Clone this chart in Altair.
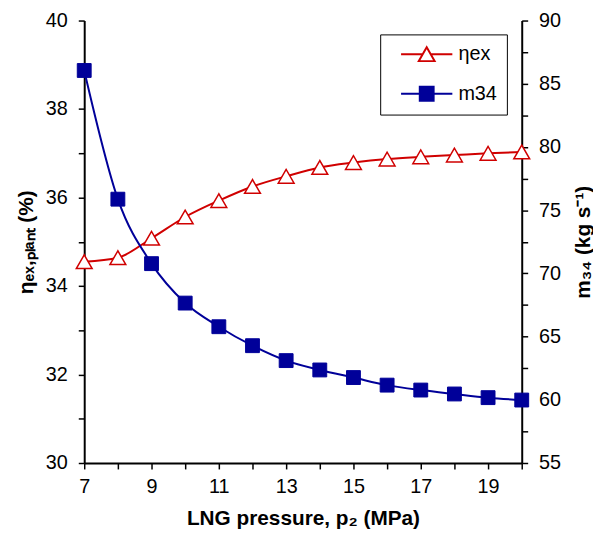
import altair as alt
import pandas as pd

# ---- data ----
pressure = [7, 8, 9, 10, 11, 12, 13, 14, 15, 16, 17, 18, 19, 20]
eta_ex = [34.55, 34.64, 35.08, 35.56, 35.93, 36.25, 36.48, 36.68, 36.79, 36.87, 36.92, 36.96, 37.00, 37.03]
m34 = [86.05, 75.87, 70.77, 67.65, 65.78, 64.28, 63.10, 62.36, 61.76, 61.16, 60.77, 60.46, 60.17, 59.98]
series = ["ηex", "m34"]

x_ticks = [7, 8, 9, 10, 11, 12, 13, 14, 15, 16, 17, 18, 19, 20]
left_ticks = [30, 31, 32, 33, 34, 35, 36, 37, 38, 39, 40]
right_ticks = [55, 57.5, 60, 62.5, 65, 67.5, 70, 72.5, 75, 77.5, 80, 82.5, 85, 87.5, 90]

RED = "#D00000"
BLUE = "#000099"
FONT = "Liberation Sans"

# legend symbols: line + marker
TRI_PATH = "M-3.7,0L-0.6,0M0.6,0L3.7,0M0,-1L1.14,1L-1.14,1Z"
SQ_PATH = "M-3.7,0L-1,0M1,0L3.7,0M-1,-1L1,-1L1,1L-1,1Z"

df = pd.DataFrame({"p": pressure, "eta": eta_ex, "m": m34})
base = alt.Chart(df)

x = alt.X(
    "p:Q",
    scale=alt.Scale(domain=[7, 20], nice=False, zero=False),
    axis=alt.Axis(
        values=x_ticks,
        labelExpr="datum.value % 2 == 1 ? datum.label : ''",
        title="LNG pressure, p₂ (MPa)",
        labelPadding=8,
        titlePadding=11,
        labelFlush=False,
        labelOverlap=False,
    ),
)

y_left = alt.Y(
    "eta:Q",
    scale=alt.Scale(domain=[30, 40], nice=False, zero=False),
    axis=alt.Axis(
        orient="left",
        values=left_ticks,
        labelExpr="datum.value % 2 == 0 ? datum.label : ''",
        title="ηₑₓ,ₚₗₐₙₜ (%)",
        labelPadding=11,
        titlePadding=9,
        labelFlush=False,
        labelOverlap=False,
    ),
)

y_right = alt.Y(
    "m:Q",
    scale=alt.Scale(domain=[55, 90], nice=False, zero=False),
    axis=alt.Axis(
        orient="right",
        values=right_ticks,
        labelExpr="datum.value % 5 == 0 ? datum.label : ''",
        title="m₃₄ (kg s⁻¹)",
        titleAngle=270,
        titleBaseline="top",
        labelPadding=11,
        titlePadding=12,
        labelFlush=False,
        labelOverlap=False,
    ),
)

eta_line = base.mark_line(color=RED, strokeWidth=2, interpolate="monotone").encode(x=x, y=y_left)
eta_pts = base.mark_point(
    shape="triangle-up", size=256, filled=True, color=RED, fill="white", stroke=RED,
    strokeWidth=1.5, opacity=1
).encode(x=x, y=y_left)

m_line = base.mark_line(color=BLUE, strokeWidth=2, interpolate="monotone").encode(x=x, y=y_right)
m_pts = base.mark_point(
    shape="square", size=196, filled=True, color=BLUE, fill=BLUE, stroke=BLUE,
    strokeWidth=1, opacity=1
).encode(x=x, y=y_right)

leg = alt.Legend(
    title=None,
    orient="none",
    legendX=299,
    legendY=14,
    strokeColor="black",
    fillColor="white",
    padding=10,
    symbolSize=196,
    symbolOffset=27,
    labelOffset=22,
    labelFont=FONT,
    labelFontSize=20,
    labelColor="black",
    labelExpr="datum.label + '     '",
    rowPadding=18,
    symbolStrokeWidth=2,
)

legend_df = pd.DataFrame({"s": series})
legend_layer = alt.Chart(legend_df).mark_point(size=196, strokeWidth=2, opacity=1, clip=True).encode(
    x=alt.value(-300),
    y=alt.value(-300),
    stroke=alt.Stroke("s:N", scale=alt.Scale(domain=series, range=[RED, BLUE]), legend=leg),
    fill=alt.Fill("s:N", scale=alt.Scale(domain=series, range=["white", BLUE]), legend=leg),
    shape=alt.Shape("s:N", scale=alt.Scale(domain=series, range=[TRI_PATH, SQ_PATH]), legend=leg),
)

left = alt.layer(eta_line, eta_pts)
right = alt.layer(m_line, m_pts)

chart = (
    alt.layer(left, right, legend_layer)
    .resolve_scale(y="independent")
    .properties(
        width=442,
        height=447,
        padding={"left": 77, "top": 10, "right": 72, "bottom": 64},
        autosize=alt.AutoSizeParams(type="none"),
    )
    .configure_axis(
        domainColor="black",
        domainWidth=2,
        tickColor="black",
        tickWidth=1.5,
        tickSize=6,
        grid=False,
        labelFont=FONT,
        labelFontSize=20,
        labelColor="black",
        titleFont=FONT,
        titleFontSize=21,
        titleFontWeight="bold",
        titleColor="black",
    )
    .configure_view(stroke=None)
)

chart.save("out.html", embed_options={"renderer": "svg", "actions": False})
